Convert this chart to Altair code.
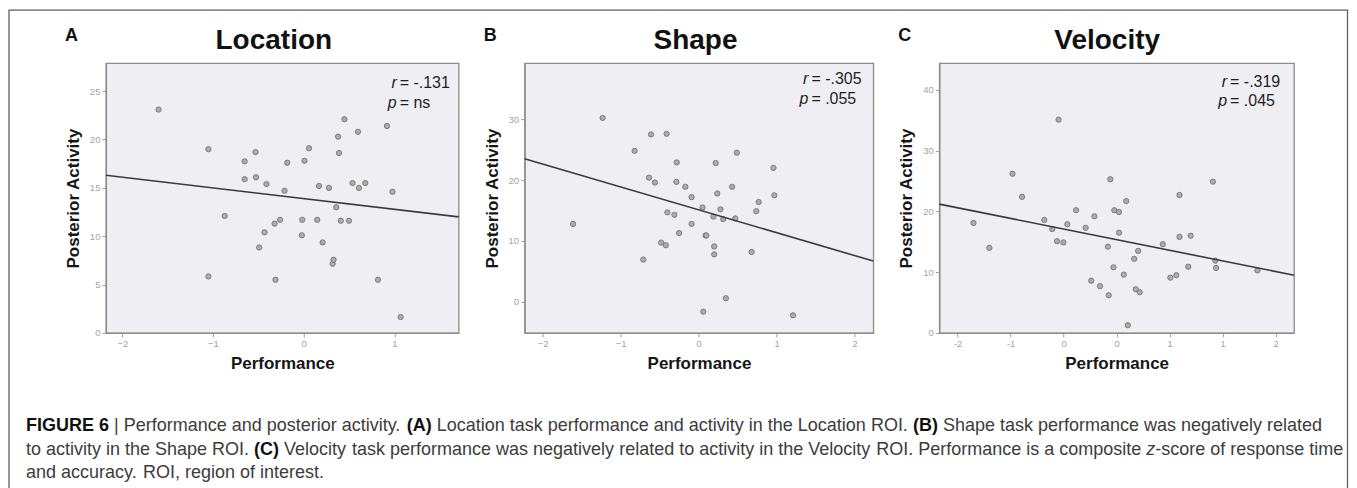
import altair as alt
import pandas as pd

# ---------------- data ----------------
# Panel A: Location
loc_x = [-1.60, -1.05, -1.05, -0.87, -0.65, -0.65, -0.53, -0.525, -0.49, -0.43,
         -0.41, -0.32, -0.31, -0.26, -0.21, -0.18, -0.02, -0.015, 0.01, 0.06,
         0.15, 0.17, 0.21, 0.28, 0.32, 0.33, 0.36, 0.38, 0.39, 0.41,
         0.45, 0.50, 0.54, 0.60, 0.61, 0.68, 0.82, 0.92, 0.98, 1.07]
loc_y = [23.1, 19.0, 5.85, 12.1, 17.75, 15.9, 18.7, 16.1, 8.84, 10.4,
         15.4, 11.3, 5.5, 11.7, 14.7, 17.6, 10.1, 11.7, 17.8, 19.1,
         11.7, 15.2, 9.36, 15.0, 7.15, 7.57, 13.0, 20.3, 18.6, 11.6,
         22.1, 11.6, 15.5, 20.8, 15.0, 15.5, 5.5, 21.4, 14.6, 1.65]
loc_fit_x = [-2.18, 1.71]
loc_fit_y = [16.3, 12.0]

# Panel B: Shape
shp_x = [-1.61, -1.23, -0.82, -0.71, -0.635, -0.61, -0.56, -0.48, -0.42, -0.41,
         -0.40, -0.31, -0.285, -0.28, -0.25, -0.17, -0.09, -0.09, 0.05, 0.06,
         0.09, 0.10, 0.19, 0.20, 0.20, 0.22, 0.24, 0.28, 0.315, 0.35,
         0.43, 0.47, 0.49, 0.68, 0.74, 0.77, 0.96, 0.97, 1.21]
shp_y = [12.8, 30.2, 24.8, 6.95, 20.4, 27.5, 19.6, 9.74, 9.3, 27.6,
         14.7, 14.3, 19.7, 22.9, 11.3, 18.9, 12.8, 17.2, 15.5, -1.6,
         10.9, 10.9, 14.0, 9.1, 7.8, 22.8, 17.8, 15.2, 13.6, 0.6,
         18.9, 13.7, 24.5, 8.2, 14.9, 16.4, 22.0, 17.5, -2.2]
shp_fit_x = [-2.23, 2.24]
shp_fit_y = [23.5, 6.7]

# Panel C: Velocity
vel_x = [-1.80, -1.60, -1.31, -1.19, -0.91, -0.81, -0.75, -0.67, -0.73, -0.62,
         -0.51, -0.39, -0.32, -0.28, -0.21, -0.11, -0.10, -0.08, -0.04, -0.03,
         0.03, 0.03, 0.09, 0.12, 0.14, 0.22, 0.24, 0.29, 0.27, 0.58,
         0.675, 0.75, 0.79, 0.79, 0.90, 0.93, 1.21, 1.24, 1.25, 1.77]
vel_y = [18.1, 14.0, 26.2, 22.4, 18.6, 17.1, 15.1, 14.9, 35.1, 17.9,
         20.2, 17.3, 8.6, 19.2, 7.7, 14.2, 6.2, 25.3, 10.8, 20.2,
         19.9, 16.5, 9.6, 21.7, 1.27, 12.2, 7.2, 6.7, 13.5, 14.6,
         9.1, 9.5, 22.7, 15.8, 10.9, 16.0, 24.9, 11.9, 10.7, 10.3]
vel_fit_x = [-2.23, 2.23]
vel_fit_y = [21.2, 9.5]

panel_letters = ["A", "B", "C"]
panel_titles = ["Location", "Shape", "Velocity"]
r_labels = ["= -.131", "= -.305", "= -.319"]
p_labels = ["= ns", "= .055", "= .045"]

loc_xticks = [-2, -1, 0, 1]
loc_yticks = [0, 5, 10, 15, 20, 25]
shp_xticks = [-2, -1, 0, 1, 2]
shp_yticks = [0, 10, 20, 30]
vel_xticks = [-2, -4 / 3, -2 / 3, 0, 2 / 3, 4 / 3, 2]
vel_xtick_labels = ["-2", "-1", "0", "0", "1", "1", "2"]
vel_yticks = [0, 10, 20, 30, 40]

caption_lines = [
    [("FIGURE 6", "b"), (" | ", "r"), ("Performance and posterior activity. ", "r"), ("(A)", "b"),
     (" Location task performance and activity in the Location ROI. ", "r"), ("(B)", "b"),
     (" Shape task performance was negatively related", "r")],
    [("to activity in the Shape ROI. ", "r"), ("(C)", "b"),
     (" Velocity task performance was negatively related to activity in the Velocity ROI. Performance is a composite ", "r"),
     ("z", "i"), ("-score of response time", "r")],
    [("and accuracy. ROI, region of interest.", "r")],
]

# ---------------- styling ----------------
FONT = "Liberation Sans"
PANEL_H = 270
BG = "#efeff3"
FRAME = "#8c8c8c"


def one_text(t, x, y, **kw):
    return alt.Chart(pd.DataFrame({"t": [t]})).mark_text(font=FONT, **kw).encode(
        x=alt.value(x), y=alt.value(y), text="t:N")


def make_panel(i, xs, ys, fx, fy, xdom, ydom, xticks, yticks, width, eq_off, r_y, p_y, title_x,
               label_expr="format(datum.value, 'd')"):
    pts = pd.DataFrame({"Performance": xs, "Activity": ys})
    fit = pd.DataFrame({"Performance": fx, "Activity": fy})
    xenc = alt.X("Performance:Q", scale=alt.Scale(domain=xdom, nice=False, zero=False),
                 axis=alt.Axis(values=xticks, title="Performance", titlePadding=7,
                               labelExpr=label_expr))
    yenc = alt.Y("Activity:Q", scale=alt.Scale(domain=ydom, nice=False, zero=False),
                 axis=alt.Axis(values=yticks, title="Posterior Activity", titlePadding=7))
    points = alt.Chart(pts).mark_circle(size=28, fill="#acacac", stroke="#6c6c6c",
                                        strokeWidth=0.8, opacity=1).encode(x=xenc, y=yenc)
    line = alt.Chart(fit).mark_line(color="#3a3a3a", strokeWidth=1.6).encode(
        x="Performance:Q", y="Activity:Q")

    eq_x = width - eq_off
    anno = dict(baseline="middle", fontSize=16, color="#1e1e1e")
    r_sym = one_text("r", eq_x - 3, r_y, align="right", fontStyle="italic", **anno)
    r_val = one_text(r_labels[i], eq_x, r_y, align="left", **anno)
    p_sym = one_text("p", eq_x - 3, p_y, align="right", fontStyle="italic", **anno)
    p_val = one_text(p_labels[i], eq_x, p_y, align="left", **anno)
    title = one_text(panel_titles[i], title_x, -14, align="center", baseline="alphabetic",
                     fontSize=28, fontWeight="bold", color="#111111")
    letter = one_text(panel_letters[i], -41, -27, align="left", baseline="middle",
                      fontSize=18, fontWeight="bold", color="#111111")

    return alt.layer(points, line, r_sym, r_val, p_sym, p_val, title, letter).properties(
        width=width, height=PANEL_H,
        view=alt.ViewBackground(fill=BG, stroke=FRAME, strokeWidth=1.3))


pA = make_panel(0, loc_x, loc_y, loc_fit_x, loc_fit_y, [-2.18, 1.71], [0, 27.9],
                loc_xticks, loc_yticks, 353, 59, 20, 40, 168)
pB = make_panel(1, shp_x, shp_y, shp_fit_x, shp_fit_y, [-2.23, 2.24], [-5.1, 39.2],
                shp_xticks, shp_yticks, 349, 62, 16, 36, 171)
pC = make_panel(2, vel_x, vel_y, vel_fit_x, vel_fit_y, [-2.23, 2.23], [0, 44.4],
                vel_xticks, vel_yticks, 355, 64, 19, 38, 168,
                label_expr="['" + "','".join(vel_xtick_labels) + "'][round(datum.value*1.5)+3]")

# ---------------- caption layout (Helvetica / Liberation Sans advance widths) ----------------
REG = {' ': 278, '!': 278, '(': 333, ')': 333, ',': 278, '-': 333, '.': 278, '|': 260, '6': 556,
       'A': 667, 'B': 667, 'C': 722, 'D': 722, 'E': 667, 'F': 611, 'G': 778, 'H': 722, 'I': 278,
       'J': 500, 'K': 667, 'L': 556, 'M': 833, 'N': 722, 'O': 778, 'P': 667, 'Q': 778, 'R': 722,
       'S': 667, 'T': 611, 'U': 722, 'V': 667, 'W': 944, 'X': 667, 'Y': 667, 'Z': 611,
       'a': 556, 'b': 556, 'c': 500, 'd': 556, 'e': 556, 'f': 278, 'g': 556, 'h': 556, 'i': 222,
       'j': 222, 'k': 500, 'l': 222, 'm': 833, 'n': 556, 'o': 556, 'p': 556, 'q': 556, 'r': 333,
       's': 500, 't': 278, 'u': 556, 'v': 500, 'w': 722, 'x': 500, 'y': 500, 'z': 500}
BOLD = {' ': 278, '(': 333, ')': 333, ',': 278, '-': 333, '.': 278, '|': 280, '6': 556,
        'A': 722, 'B': 722, 'C': 722, 'D': 722, 'E': 667, 'F': 611, 'G': 778, 'H': 722, 'I': 278,
        'J': 556, 'K': 722, 'L': 611, 'M': 833, 'N': 722, 'O': 778, 'P': 667, 'Q': 778, 'R': 722,
        'S': 667, 'T': 611, 'U': 722, 'V': 667, 'W': 944, 'X': 667, 'Y': 667, 'Z': 611}


def em(s, sty):
    tab = BOLD if sty == "b" else REG
    return sum(tab.get(c, REG.get(c, 556)) for c in s) / 1000.0


line1_em = sum(em(s, st) for s, st in caption_lines[0])
CAP_FS = (1322 - 25) / line1_em
CAP_X0 = 25 - 105
CAP_Y = [35, 59, 82]

segs = []
for li, line in enumerate(caption_lines):
    cx = CAP_X0
    for s, st in line:
        # place word by word so that width errors do not accumulate
        for k, word in enumerate(s.split(" ")):
            if k > 0:
                cx += em(" ", st) * CAP_FS
            if word:
                segs.append({"seg": word, "px": cx, "py": CAP_Y[li], "sty": st})
                cx += em(word, st) * CAP_FS
cap_df = pd.DataFrame(segs)

cap_base = alt.Chart(cap_df).encode(
    x=alt.X("px:Q", scale=None, axis=None), y=alt.Y("py:Q", scale=None, axis=None), text="seg:N")
cap_reg = cap_base.mark_text(align="left", baseline="middle", font=FONT, fontSize=CAP_FS,
                             color="#3c3c3c").transform_filter("datum.sty == 'r'")
cap_bold = cap_base.mark_text(align="left", baseline="middle", font=FONT, fontSize=CAP_FS,
                              fontWeight="bold", color="#111111").transform_filter("datum.sty == 'b'")
cap_it = cap_base.mark_text(align="left", baseline="middle", font=FONT, fontSize=CAP_FS,
                            fontStyle="italic", color="#3c3c3c").transform_filter("datum.sty == 'i'")

# outer figure frame (kept within the 1341px-wide page body so the svg is not rescaled)
frame = alt.Chart(pd.DataFrame({"k": [0]})).mark_rect(
    filled=False, stroke="#5e5e5e", strokeWidth=1.3).encode(
    x=alt.value(-97), x2=alt.value(1242.5), y=alt.value(-381), y2=alt.value(110))

caption = alt.layer(frame, cap_reg, cap_bold, cap_it).properties(
    width=340, height=60, view=alt.ViewBackground(strokeOpacity=0, fillOpacity=0))

chart = alt.concat(pA, pB, pC, caption, columns=3, bounds="flush", align="each",
                   spacing={"row": 58, "column": 66}).properties(
    padding={"left": 0, "top": 1, "right": 0, "bottom": 0}
).configure_axis(
    grid=False, labelColor="#a3a3a3", labelFontSize=9.5, labelFont=FONT, labelPadding=2,
    tickColor="#a0a0a0", tickSize=4, domainColor=FRAME, domainWidth=1.3,
    titleFont=FONT, titleFontSize=17, titleFontWeight="bold", titleColor="#161616"
).configure_view(stroke=FRAME)

chart.save("out.html", embed_options={"renderer": "svg", "actions": False})
